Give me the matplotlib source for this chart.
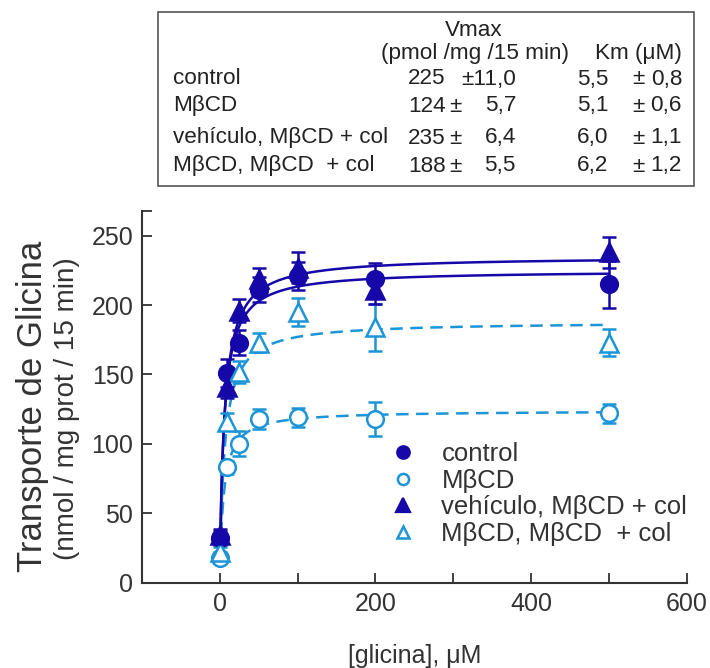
import numpy as np
import matplotlib
matplotlib.use("Agg")
import matplotlib.pyplot as plt
from matplotlib.lines import Line2D
from matplotlib.patches import Rectangle
from matplotlib.ticker import FixedLocator

plt.rcParams['font.family'] = ['Liberation Sans', 'DejaVu Sans']

# Glycine concentrations (uM)
conc = [1, 10, 25, 50, 100, 200, 500]

# Transport (nmol / mg prot / 15 min), mean and error
control = [32, 151, 173, 211, 221, 219, 215]
control_err = [5, 10, 9, 9, 10, 11, 17]
mbcd = [18, 83, 100, 118, 119, 118, 122]
mbcd_err = [4, 5, 9, 7, 7, 12, 7]
vehiculo = [34, 141, 196, 219, 227, 211, 238]
vehiculo_err = [5, 8, 8, 8, 11, 10, 11]
mbcd_col = [22, 116, 152, 173, 195, 184, 173]
mbcd_col_err = [4, 6, 8, 7, 10, 17, 10]

# Kinetic parameters from the Michaelis-Menten fits
vmax = [225, 124, 235, 188]
km = [5.5, 5.1, 6.0, 6.2]
vmax_num = ["225", "124", "235", "188"]
vmax_sd = ["11,0", "5,7", "6,4", "5,5"]
km_num = ["5,5", "5,1", "6,0", "6,2"]
km_sd = ["0,8", "0,6", "1,1", "1,2"]
labels = ["control", "M\u03b2CD", "veh\u00edculo, M\u03b2CD + col", "M\u03b2CD, M\u03b2CD  + col"]

dark = '#1608a8'
light = '#1c95d8'
txt = '#333333'

fig = plt.figure(figsize=(7.10, 6.68), dpi=100)
ax = fig.add_axes([0.1996, 0.1277, 0.768, 0.557])

xs = np.linspace(1, 500, 800)
series = [
    (control, control_err, vmax[0], km[0], 'o', True, '-'),
    (mbcd, mbcd_err, vmax[1], km[1], 'o', False, '--'),
    (mbcd_col, mbcd_col_err, vmax[3], km[3], '^', False, '--'),
    (vehiculo, vehiculo_err, vmax[2], km[2], '^', True, '-'),
]
for y, e, vm, k, mk, filled, ls in series:
    col = dark if filled else light
    fit = vm * xs / (k + xs)
    if ls == '--':
        ax.plot(xs, fit, color=col, lw=1.8, dashes=(5, 3), zorder=2)
    else:
        ax.plot(xs, fit, color=col, lw=1.8, zorder=2)
    ax.errorbar(conc, y, yerr=e, fmt='none', ecolor=col, elinewidth=1.8,
                capsize=5, capthick=1.8, zorder=3)
    ax.plot(conc, y, linestyle='none', marker=mk,
            markersize=12 if mk == 'o' else 13.5,
            markerfacecolor=col if filled else 'white',
            markeredgecolor=col, markeredgewidth=1.8, zorder=4)

ax.set_xlim(-100, 600)
ax.set_ylim(0, 268)
ax.set_xticks([0, 200, 400, 600])
ax.set_yticks([0, 50, 100, 150, 200, 250])
ax.xaxis.set_minor_locator(FixedLocator([100, 300, 500]))
ax.yaxis.set_minor_locator(FixedLocator([268]))
ax.tick_params(which='both', direction='in', length=7, width=1.3,
               color=txt, labelsize=18, labelcolor=txt)
ax.tick_params(axis='x', pad=7)
ax.tick_params(axis='y', pad=6)
for s in ['top', 'right']:
    ax.spines[s].set_visible(False)
for s in ['left', 'bottom']:
    ax.spines[s].set_linewidth(1.5)
    ax.spines[s].set_color(txt)

ax.set_xlabel("[glicina], \u03bcM", fontsize=18, color=txt, labelpad=20)
fig.text(0.046, 0.392, "Transporte de Glicina", rotation=90, fontsize=25,
         color=txt, ha='center', va='center')
fig.text(0.095, 0.388, "(nmol / mg prot / 15 min)", rotation=90, fontsize=20,
         color=txt, ha='center', va='center')

handles = [
    Line2D([], [], ls='none', marker='o', ms=9, mfc=dark, mec=dark, mew=1.6),
    Line2D([], [], ls='none', marker='o', ms=8, mfc='white', mec=light, mew=1.8),
    Line2D([], [], ls='none', marker='^', ms=9.5, mfc=dark, mec=dark, mew=1.6),
    Line2D([], [], ls='none', marker='^', ms=8.5, mfc='white', mec=light, mew=1.8),
]
leg = ax.legend(handles, labels, loc='upper left',
                bbox_to_anchor=(390 / 710, 1 - 442 / 668),
                bbox_transform=fig.transFigure,
                frameon=False, fontsize=18.5, handlelength=1.0,
                handletextpad=1.0, labelspacing=0.1, borderaxespad=0,
                borderpad=0)
for t in leg.get_texts():
    t.set_color(txt)

# Parameter table above the plot
tc = '#222222'
fig.patches.append(Rectangle((158 / 710, 1 - 186 / 668), (694 - 158) / 710,
                             (186 - 12) / 668, transform=fig.transFigure,
                             fill=False, edgecolor='#555555', lw=1.2))
fs = 16.2


def put(px, py, s, ha='left'):
    fig.text(px / 710, 1 - py / 668, s, fontsize=fs, color=tc,
             ha=ha, va='center')


put(474, 30, "Vmax", ha='center')
put(381, 54, "(pmol /mg /15 min)")
put(682, 54, "Km (\u03bcM)", ha='right')
rows_y = [79, 106, 138, 166]
for lab, vn, vs, kn, ks, yy in zip(labels, vmax_num, vmax_sd,
                                   km_num, km_sd, rows_y):
    put(173, yy, lab)
    put(408, yy, vn)
    if len(vs) > 3:
        put(516, yy, "\u00b1" + vs, ha='right')
    else:
        put(449, yy, "\u00b1")
        put(516, yy, vs, ha='right')
    put(577, yy, kn)
    put(632, yy, "\u00b1")
    put(682, yy, ks, ha='right')

fig.savefig("out.png", dpi=100)
